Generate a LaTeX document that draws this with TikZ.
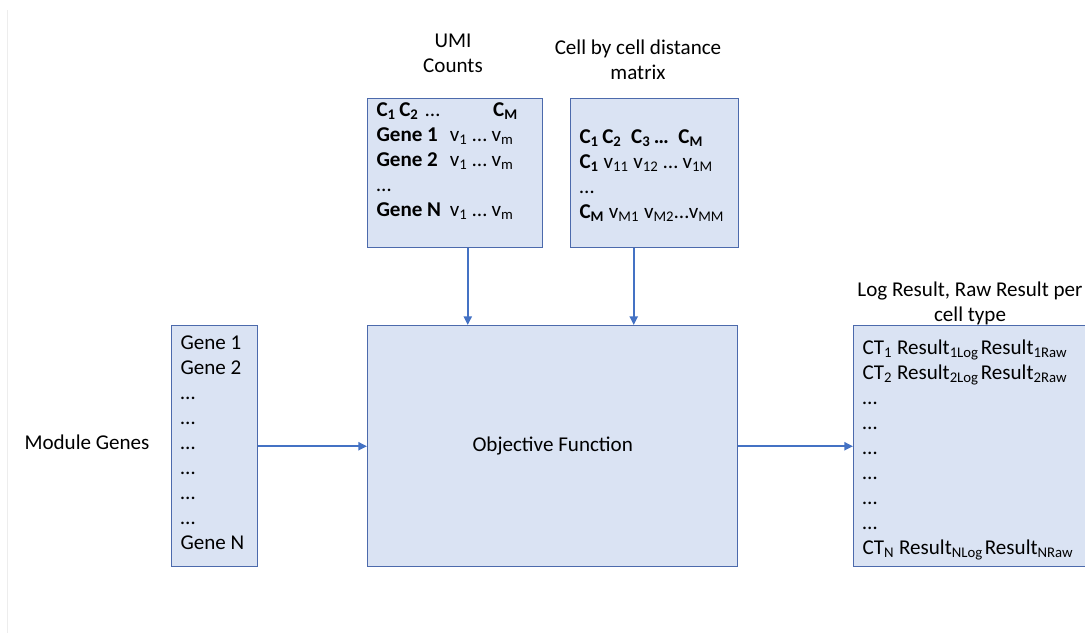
\documentclass[tikz,border=0pt]{standalone}
\usepackage{fontspec}
\setmainfont{Carlito}
\usetikzlibrary{arrows.meta}

\definecolor{boxfill}{RGB}{218,227,243}
\definecolor{boxline}{RGB}{76,106,172}
\definecolor{arrowblue}{RGB}{68,114,196}

\tikzset{every picture/.style={line width=0.75pt}}
\tikzset{
  databox/.style={draw=boxline, fill=boxfill, line width=1.1pt, anchor=north west, inner sep=0pt},
  boxtext/.style={anchor=north west, inner sep=0pt, align=left, font=\fontsize{15.8}{18.75}\selectfont},
  caption/.style={align=center, inner sep=0pt, font=\fontsize{15.8}{18.75}\selectfont},
  flow/.style={draw=arrowblue, line width=1.8pt, -{Triangle[length=6.5pt,width=6pt]}},
}

\begin{document}
\begin{tikzpicture}[x=0.75pt,y=0.75pt,yscale=-1,xscale=1]
\useasboundingbox (0,0) rectangle (1085,636);
%faint page edge
\draw[black!7] (7,10) -- (7,633);

%Boxes
\node[databox, minimum width=131.25pt, minimum height=111.75pt] (umi) at (367,98) {};
\node[databox, minimum width=126pt, minimum height=111.75pt] (dist) at (570,98) {};
\node[databox, minimum width=277.5pt, minimum height=180.75pt] (obj) at (367,325) {};
\node[databox, minimum width=64.5pt, minimum height=180.75pt] (genes) at (171,325) {};
\node[databox, minimum width=181.5pt, minimum height=180.75pt] (res) at (853,325) {};

%Captions
\node[caption] (umicap) at (453,53) {UMI\\Counts};
\node[caption] (distcap) at (638,60) {Cell by cell distance\\matrix};
\node[caption] (rescap) at (970,303) {Log Result, Raw Result per\\cell type};
\node[caption] (genecap) at (87,442) {Module Genes};
\node[caption] (objcap) at (obj.center) {Objective Function};

%Box contents
\node[boxtext] (umitext) at (376,102) {%
  \textbf{C\textsubscript{1}\,C\textsubscript{2}}\hspace{5pt}\dots\hspace{40pt}\textbf{C\textsubscript{M}}\\
  \makebox[55pt][l]{\textbf{Gene 1}}v\textsubscript{1} \dots{} v\textsubscript{m}\\
  \makebox[55pt][l]{\textbf{Gene 2}}v\textsubscript{1} \dots{} v\textsubscript{m}\\
  \dots\\
  \makebox[55pt][l]{\textbf{Gene N}}v\textsubscript{1} \dots{} v\textsubscript{m}};
\node[boxtext] (disttext) at (579,129) {%
  \textbf{C\textsubscript{1}\,C\textsubscript{2}\ \ C\textsubscript{3}\,\dots\ \ C\textsubscript{M}}\\
  \textbf{C\textsubscript{1}} v\textsubscript{11} v\textsubscript{12} \dots{} v\textsubscript{1M}\\
  \dots\\
  \textbf{C\textsubscript{M}} v\textsubscript{M1} v\textsubscript{M2}\dots v\textsubscript{MM}};
\node[boxtext] (genetext) at (180,335) {%
  Gene 1\\Gene 2\\\dots\\\dots\\\dots\\\dots\\\dots\\\dots\\Gene N};
\node[boxtext] (restext) at (862,339) {%
  CT\textsubscript{1} Result\textsubscript{1Log}\hspace{1.5pt}Result\textsubscript{1Raw}\\
  CT\textsubscript{2} Result\textsubscript{2Log}\hspace{1.5pt}Result\textsubscript{2Raw}\\
  \dots\\\dots\\\dots\\\dots\\\dots\\\dots\\
  CT\textsubscript{N} Result\textsubscript{NLog}\hspace{1.5pt}Result\textsubscript{NRaw}};

%Connectors
\draw[flow] ([xshift=9.4pt]umi.south) -- ([xshift=9.4pt]umi.south |- obj.north);
\draw[flow] ([xshift=-15.75pt]dist.south) -- ([xshift=-15.75pt]dist.south |- obj.north);
\draw[flow] (genes.east) -- (obj.west);
\draw[flow] (obj.east) -- (res.west);

\end{tikzpicture}
\end{document}
